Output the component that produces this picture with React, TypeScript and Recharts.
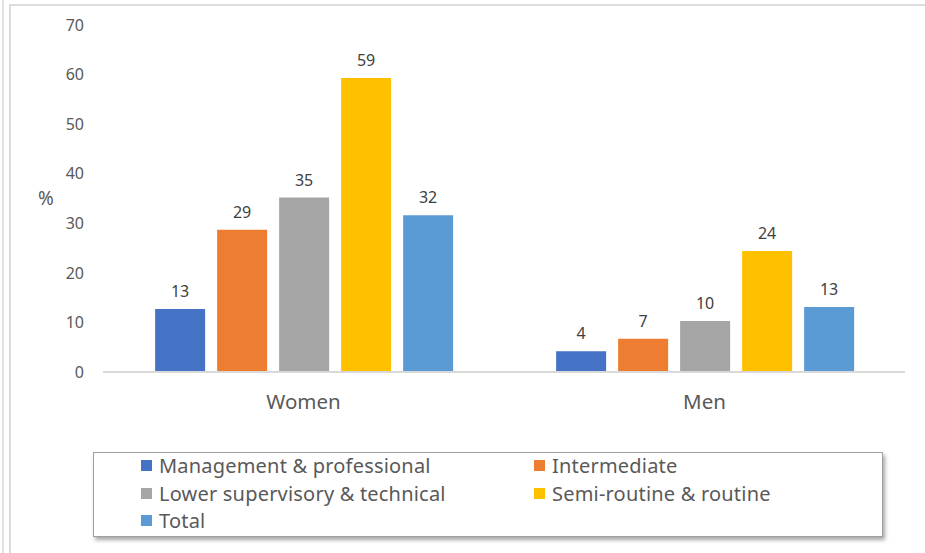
import { Bar, BarChart, LabelList, XAxis, YAxis } from "recharts"

// values (bar heights), labels show the rounded value
const groups = ["Women", "Men"]
const management = [12.7, 4.2]
const intermediate = [28.7, 6.7]
const lowerSupervisory = [35.2, 10.3]
const semiRoutine = [59.3, 24.4]
const total = [31.6, 13.1]
const yTicks = [0, 10, 20, 30, 40, 50, 60, 70]

const series = [
  { key: "management", name: "Management & professional", color: "#4472C4", values: management },
  { key: "intermediate", name: "Intermediate", color: "#ED7D31", values: intermediate },
  { key: "lower", name: "Lower supervisory & technical", color: "#A5A5A5", values: lowerSupervisory },
  { key: "semi", name: "Semi-routine & routine", color: "#FFC000", values: semiRoutine },
  { key: "total", name: "Total", color: "#5B9BD5", values: total },
]

const data = groups.map((g, i) => {
  const row: Record<string, string | number> = { group: g }
  series.forEach((s) => (row[s.key] = s.values[i]))
  return row
})

const font = "'Noto Sans', 'Open Sans', sans-serif"

export default function App() {
  return (
    <div style={{ position: "absolute", left: 0, top: 0, width: 925, height: 553, background: "#fff", fontFamily: font }}>
      {/* outer frames */}
      <div style={{ position: "absolute", left: 2, top: 0, width: 2, height: 553, background: "#e3e3e3" }} />
      <div style={{ position: "absolute", left: 9, top: 4, width: 916, height: 549, borderLeft: "2px solid #dcdcdc", borderTop: "2px solid #dcdcdc" }} />

      <div style={{ position: "absolute", left: 0, top: 0 }}>
        <BarChart
          width={925}
          height={553}
          data={data}
          margin={{ top: 25, right: 20, left: 0, bottom: 141 }}
          barCategoryGap="13%"
          barGap={12}
        >
          <XAxis
            dataKey="group"
            axisLine={{ stroke: "#d9d9d9", strokeWidth: 2 }}
            tickLine={false}
            height={40}
            tickMargin={16}
            tick={{ fill: "#595959", fontSize: 20.5, fontFamily: font }}
          />
          <YAxis
            width={103}
            domain={[0, 70]}
            ticks={yTicks}
            axisLine={false}
            tickLine={false}
            tickMargin={13}
            tick={{ fill: "#595959", fontSize: 16, fontFamily: font }}
            label={{ value: "%", position: "insideLeft", offset: 38, fill: "#595959", fontSize: 19, fontFamily: font }}
          />
          {series.map((s) => (
            <Bar key={s.key} dataKey={s.key} name={s.name} fill={s.color} isAnimationActive={false}>
              <LabelList
                dataKey={s.key}
                position="top"
                offset={12}
                formatter={(v: number) => Math.round(v)}
                style={{ fill: "#404040", fontSize: 16, fontFamily: font }}
              />
            </Bar>
          ))}
        </BarChart>
      </div>

      {/* legend box */}
      <div
        style={{
          position: "absolute",
          left: 93,
          top: 452,
          width: 790,
          height: 85,
          border: "1px solid #a0a0a0",
          boxShadow: "2px 3px 4px rgba(0,0,0,0.35)",
          background: "#fff",
          boxSizing: "border-box",
        }}
      >
        <div style={{ position: "relative" }}>
          {series.map((s, i) => (
            <div
              key={s.key}
              style={{
                position: "absolute",
                left: i % 2 === 0 ? 47 : 440,
                top: -1 + Math.floor(i / 2) * 27.5,
                display: "flex",
                alignItems: "center",
                gap: 7,
                fontSize: 20,
                letterSpacing: 0.2,
                color: "#595959",
                whiteSpace: "nowrap",
              }}
            >
              <span style={{ width: 11, height: 11, background: s.color, display: "inline-block" }} />
              {s.name}
            </div>
          ))}
        </div>
      </div>
    </div>
  )
}
